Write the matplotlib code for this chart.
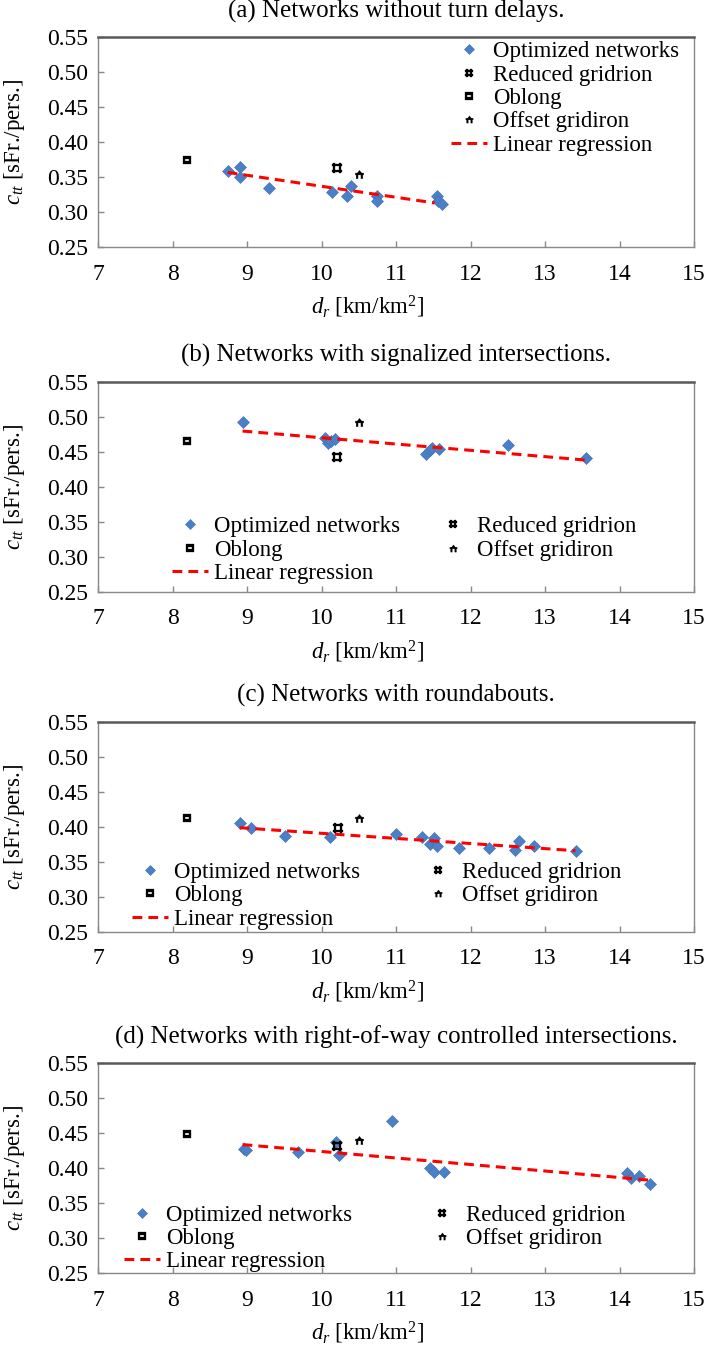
import numpy as np
import matplotlib
matplotlib.use("Agg")
import matplotlib.pyplot as plt
from matplotlib.path import Path
from matplotlib.lines import Line2D

plt.rcParams['font.family'] = ['Liberation Serif', 'DejaVu Serif']
plt.rcParams['mathtext.fontset'] = 'custom'
plt.rcParams['mathtext.rm'] = 'Liberation Serif'
plt.rcParams['mathtext.it'] = 'Liberation Serif:italic'

# ---------------- data ----------------
titles = ["(a) Networks without turn delays.",
          "(b) Networks with signalized intersections.",
          "(c) Networks with roundabouts.",
          "(d) Networks with right-of-way controlled intersections."]

a_opt_x = [8.74, 8.90, 8.90, 9.30, 10.14, 10.34, 10.40, 10.74, 10.75, 11.55, 11.57, 11.62]
a_opt_y = [0.3595, 0.365, 0.351, 0.335, 0.329, 0.323, 0.3376, 0.323, 0.316, 0.323, 0.316, 0.312]
a_red = (10.21, 0.363)
a_obl = (8.20, 0.375)
a_off = (10.51, 0.355)
a_reg_x = [8.74, 11.52]
a_reg_y = [0.357, 0.3133]

b_opt_x = [8.94, 10.05, 10.09, 10.13, 10.18, 11.40, 11.45, 11.48, 11.58, 12.50, 13.55]
b_opt_y = [0.492, 0.470, 0.462, 0.466, 0.468, 0.4467, 0.452, 0.4557, 0.4533, 0.459, 0.4414]
b_red = (10.21, 0.443)
b_obl = (8.20, 0.465)
b_off = (10.50, 0.492)
b_reg_x = [8.94, 13.55]
b_reg_y = [0.4795, 0.438]

c_opt_x = [8.90, 9.06, 9.51, 10.11, 11.00, 11.35, 11.45, 11.51, 11.55, 11.85, 12.25, 12.60, 12.65, 12.85, 13.41]
c_opt_y = [0.405, 0.3986, 0.3871, 0.3848, 0.389, 0.3852, 0.376, 0.3843, 0.372, 0.370, 0.370, 0.3667, 0.3795, 0.372, 0.3657]
c_red = (10.22, 0.3976)
c_obl = (8.20, 0.412)
c_off = (10.51, 0.413)
c_reg_x = [8.90, 13.41]
c_reg_y = [0.3986, 0.3657]

d_opt_x = [8.96, 8.99, 9.69, 10.20, 10.24, 10.95, 11.46, 11.51, 11.65, 14.10, 14.15, 14.26, 14.41]
d_opt_y = [0.4282, 0.4258, 0.423, 0.4372, 0.4187, 0.468, 0.4007, 0.395, 0.395, 0.3936, 0.3856, 0.389, 0.377]
d_red = (10.21, 0.4315)
d_obl = (8.20, 0.449)
d_off = (10.51, 0.441)
d_reg_x = [8.94, 14.39]
d_reg_y = [0.4339, 0.3832]

series_labels = ["Optimized networks", "Reduced gridrion", "Oblong", "Offset gridiron", "Linear regression"]
x_ticks = [7, 8, 9, 10, 11, 12, 13, 14, 15]
y_ticks = [0.25, 0.30, 0.35, 0.40, 0.45, 0.50, 0.55]

# ---------------- markers ----------------
def rect_path(rects, polys=()):
    verts, codes = [], []
    for (x0, y0, x1, y1) in rects:
        verts += [(x0, y0), (x1, y0), (x1, y1), (x0, y1), (x0, y0)]
        codes += [Path.MOVETO, Path.LINETO, Path.LINETO, Path.LINETO, Path.CLOSEPOLY]
    for poly in polys:
        verts += list(poly) + [poly[0]]
        codes += [Path.MOVETO] + [Path.LINETO] * (len(poly) - 1) + [Path.CLOSEPOLY]
    return Path(verts, codes)

t = 0.45
reduced_marker = rect_path([
    (-1, -1.3, -t, 1.3), (t, -1.3, 1, 1.3),
    (-1.3, -1, -1, -t), (-t, -1, t, -t), (1, -1, 1.3, -t),
    (-1.3, t, -1, 1), (-t, t, t, 1), (1, t, 1.3, 1)])
oblong_marker = rect_path([
    (-1, 0.25, 1, 1), (-1, -1, 1, -0.2),
    (-1, -0.2, -0.55, 0.25), (0.55, -0.2, 1, 0.25)])
offset_marker = rect_path([
    (-1, -0.1, 1, 0.35), (-0.8, -1, -0.35, -0.1), (0.35, -1, 0.8, -0.1)],
    polys=[[(-0.5, 0.35), (0.5, 0.35), (0.0, 1.0)]])

BLUE = '#4A80C8'
BLUE_EDGE = '#3F6FB0'
RED = '#FF0000'
DASH = (0, (3.2, 2.0))

W, H = 706, 1346
fig = plt.figure(figsize=(W / 100, H / 100), dpi=100)

panel_tops = [37.3, 381.7, 721.7, 1063.3]
panel_h = 210.0
ax_left, ax_w = 98.0, 596.0

panels = [
    (a_opt_x, a_opt_y, a_red, a_obl, a_off, a_reg_x, a_reg_y),
    (b_opt_x, b_opt_y, b_red, b_obl, b_off, b_reg_x, b_reg_y),
    (c_opt_x, c_opt_y, c_red, c_obl, c_off, c_reg_x, c_reg_y),
    (d_opt_x, d_opt_y, d_red, d_obl, d_off, d_reg_x, d_reg_y),
]

LFS = 16.5
# legend placement: (x of handle start, y top) in pixels, ncol, columnspacing
legend_cfg = [
    (451, 41.4, 1, 1.5),
    (172, 516.4, 2, 1.53),
    (132, 862.0, 2, 2.62),
    (124, 1204.7, 2, 3.13),
]

for i, (ox, oy, red, obl, off, rx, ry) in enumerate(panels):
    top = panel_tops[i]
    ax = fig.add_axes([ax_left / W, 1 - (top + panel_h) / H, ax_w / W, panel_h / H])
    ax.set_xlim(7, 15)
    ax.set_ylim(0.25, 0.55)
    ax.set_xticks(x_ticks)
    ax.set_xticklabels([str(v) for v in x_ticks])
    ax.set_yticks(y_ticks)
    ax.set_yticklabels(["%.2f" % v for v in y_ticks])
    ax.tick_params(axis='both', direction='in', length=4, width=1, color='#898989',
                   labelsize=17, labelcolor='black')
    ax.tick_params(axis='x', pad=12)
    ax.tick_params(axis='y', pad=7)
    for side in ['left', 'right', 'bottom']:
        ax.spines[side].set_color('#898989')
        ax.spines[side].set_linewidth(1.0)
    ax.spines['top'].set_color('#595959')
    ax.spines['top'].set_linewidth(1.8)

    ax.plot(ox, oy, ls='none', marker='D', ms=6.4, mfc=BLUE, mec=BLUE_EDGE, mew=0.4, zorder=3)
    ax.plot(rx, ry, color=RED, ls=DASH, lw=2.2, zorder=4)
    ax.plot([red[0]], [red[1]], ls='none', marker=reduced_marker, ms=7.0, color='black', mew=0.2, zorder=5)
    ax.plot([obl[0]], [obl[1]], ls='none', marker=oblong_marker, ms=6.0, color='black', mew=0.2, zorder=5)
    ax.plot([off[0]], [off[1]], ls='none', marker=offset_marker, ms=6.0, color='black', mew=0.2, zorder=5)

    ax.text(0.5, 1 + 26 / panel_h, titles[i], transform=ax.transAxes, ha='center', va='center',
            fontsize=18)
    ax.text(-83 / ax_w, 0.5, r'$c_{tt}$ [sFr./pers.]', transform=ax.transAxes, rotation=90,
            rotation_mode='anchor', ha='center', va='center', fontsize=16.5)
    ax.text((367.5 - ax_left) / ax_w, -60 / panel_h, r'$d_r$ [km/km$^2$]', transform=ax.transAxes,
            ha='center', va='center', fontsize=16.5)

    h_opt = Line2D([], [], ls='none', marker='D', ms=4.6, mfc=BLUE, mec=BLUE_EDGE, mew=0.4)
    h_red = Line2D([], [], ls='none', marker=reduced_marker, ms=6.0, color='black', mew=0.2)
    h_obl = Line2D([], [], ls='none', marker=oblong_marker, ms=5.2, color='black', mew=0.2)
    h_off = Line2D([], [], ls='none', marker=offset_marker, ms=5.2, color='black', mew=0.2)
    h_reg = Line2D([], [], color=RED, ls=DASH, lw=2.2)

    lx, ly, ncol, cs = legend_cfg[i]
    if ncol == 1:
        handles = [h_opt, h_red, h_obl, h_off, h_reg]
        labels = series_labels
    else:
        handles = [h_opt, h_obl, h_reg, h_red, h_off]
        labels = [series_labels[0], series_labels[2], series_labels[4], series_labels[1], series_labels[3]]
    ax.legend(handles, labels, loc='upper left', bbox_to_anchor=(lx / W, 1 - ly / H),
              bbox_transform=fig.transFigure, frameon=False, ncol=ncol, fontsize=LFS,
              borderpad=0, borderaxespad=0, handlelength=1.57, handletextpad=0.26,
              labelspacing=0.1, columnspacing=cs)

fig.savefig("out.png", dpi=100)
